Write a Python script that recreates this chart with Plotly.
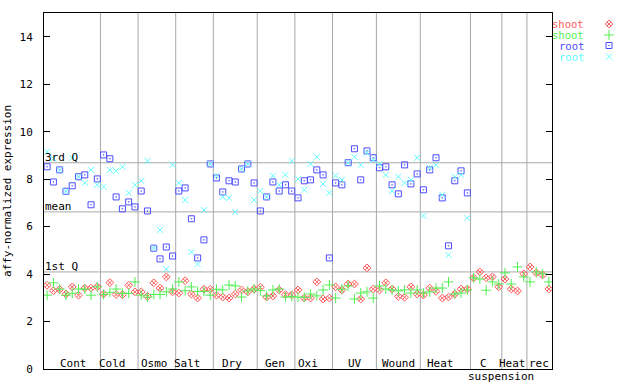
import plotly.graph_objects as go

# ---- data ----
group_names = ["Cont", "Cold", "Osmo", "Salt", "Dry", "Gen", "Oxi", "UV", "Wound", "Heat", "C", "Heat", "rec"]
group_sizes = [9, 6, 6, 6, 7, 6, 6, 7, 7, 8, 5, 4, 4]
label_x = [5.28, 11.5, 18.04, 23.39, 30.48, 37.34, 42.53, 50.1, 56.96, 63.66, 70.52, 75.2, 79.45]
sub_label = "suspension"
sub_label_x = 73.4

shoot_a = [3.53, 3.30, 3.35, 3.16, 3.46, 3.11, 3.41, 3.41, 3.46,
           3.16, 3.64, 3.14, 3.13, 3.53, 3.25,
           3.25, 3.06, 3.63, 3.41, 3.88, 3.25,
           3.20, 3.72, 3.16, 2.99, 3.36, 3.36,
           3.11, 3.03, 2.99, 3.16, 3.33, 3.25, 3.37,
           3.44, 3.03, 3.08, 3.33, 3.13, 3.12,
           3.33, 2.99, 2.99, 3.67, 2.95, 2.99,
           3.46, 3.33, 3.58, 3.58, 2.95, 4.26, 3.37,
           3.33, 3.63, 3.37, 3.06, 3.02, 3.46, 3.16,
           3.12, 3.41, 3.27, 2.99, 3.03, 3.16, 3.37, 3.37,
           3.84, 4.09, 3.84, 3.88, 3.46,
           3.79, 3.37, 3.29, 4.01,
           4.30, 4.05, 3.96, 3.37]
shoot_b = [3.11, 3.63, 3.37, 3.11, 3.19, 3.37, 3.37, 3.11, 3.46,
           3.14, 3.23, 3.37, 3.19, 3.19, 3.67,
           3.11, 3.03, 3.14, 3.14, 3.25, 3.37,
           3.67, 3.30, 3.46, 3.27, 3.27, 3.11,
           3.36, 3.33, 3.54, 3.50, 3.03, 3.29, 3.37,
           3.30, 3.08, 3.33, 3.37, 3.03, 3.06,
           3.03, 3.02, 3.16, 3.08, 3.33, 3.54,
           2.99, 3.36, 3.50, 2.95, 3.20, 3.25, 2.99,
           3.50, 3.37, 3.33, 3.29, 3.33, 3.20, 3.33,
           3.20, 3.25, 3.41, 3.41, 3.67, 3.16, 3.20, 3.33,
           3.84, 3.79, 3.32, 3.67, 3.58,
           4.05, 3.58, 4.30, 3.88,
           3.67, 4.09, 4.01, 3.67]
root_a = [8.52, 7.88, 8.39, 7.49, 7.72, 8.10, 8.18, 6.92, 8.01,
          9.02, 8.86, 7.25, 6.75, 7.04, 6.83,
          7.50, 6.66, 5.09, 4.64, 5.14, 4.76,
          7.50, 7.63, 6.33, 4.68, 5.44, 8.64,
          8.05, 7.46, 7.93, 7.88, 8.43, 8.64, 7.84,
          6.66, 7.25, 7.88, 7.50, 7.76, 7.50,
          7.21, 7.93, 7.97, 8.39, 8.18, 4.68,
          7.84, 7.76, 8.69, 9.28, 7.97, 9.19, 8.90,
          8.48, 8.52, 7.76, 7.38, 8.60, 7.80, 8.22,
          7.55, 8.39, 8.90, 7.21, 5.19, 7.93, 8.35, 7.42] + [None] * 13
root_b = [9.15, 8.87, 8.39, 7.49, 8.90, 8.10, 7.84, 8.39, 7.76,
          7.68, 8.39, 8.35, 8.52, 7.42, 7.76,
          7.93, 8.77, 5.09, 5.86, 4.21, 8.60,
          7.84, 7.12, 4.93, 4.42, 6.70, 8.64,
          8.14, 7.25, 7.21, 6.62, 8.43, 8.64, 7.12,
          7.50, 7.25, 8.14, 7.76, 8.18, 8.77,
          8.01, 7.55, 8.64, 8.94, 7.80, 7.42,
          8.14, 7.97, 8.69, 8.94, 8.60, 9.11, 8.81,
          8.64, 8.18, 7.50, 8.10, 7.84, 7.97, 8.90,
          6.45, 8.48, 8.60, 7.34, 4.81, 8.10, 8.18, 6.36] + [None] * 13

q3_value = 8.69
mean_value = 6.62
q1_value = 4.09
y_ticks = [0, 2, 4, 6, 8, 10, 12, 14]

# ---- layout constants (pixels) ----
W, H = 640, 384
L, R, T, B = 44, 20, 13, 15
PLOT_RIGHT = 552
area_w = W - L - R
main_frac = (PLOT_RIGHT - L) / area_w

n = len(shoot_a)
xs = list(range(1, n + 1))
FONT = "DejaVu Sans Mono"
C_RED, C_GREEN, C_BLUE, C_CYAN = "#ff5a5a", "#50f050", "#4c4cff", "#60ffff"
GRID = "#a8a8a8"

fig = go.Figure()

series = [
    ("shoot", shoot_a, C_RED, "diamond-x-open", 6),
    ("shoot", shoot_b, C_GREEN, "cross-thin-open", 7),
    ("root", root_a, C_BLUE, "square-open-dot", 6),
    ("root", root_b, C_CYAN, "x-thin-open", 6),
]
for name, vals, col, sym, sz in series:
    fig.add_trace(go.Scatter(x=xs, y=vals, mode="markers", name=name, showlegend=False,
                             marker=dict(symbol=sym, size=sz, color=col,
                                         line=dict(color=col, width=1))))

# separators and reference lines
shapes = []
b = 0.5
for s in group_sizes[:-1]:
    b += s
    shapes.append(dict(type="line", xref="x", yref="y", x0=b, x1=b, y0=0, y1=15,
                       line=dict(color=GRID, width=1), layer="below"))
for v in (q3_value, mean_value, q1_value):
    shapes.append(dict(type="line", xref="x", yref="y", x0=0.5, x1=n + 0.5, y0=v, y1=v,
                       line=dict(color=GRID, width=1), layer="below"))

ann = []
for name, lx in zip(group_names, label_x):
    ann.append(dict(x=lx, y=0, xref="x", yref="y", text=name, showarrow=False,
                    xanchor="center", yanchor="middle", yshift=6,
                    font=dict(family=FONT, size=11, color="black")))
ann.append(dict(x=sub_label_x, y=0, xref="x", yref="y", text=sub_label, showarrow=False,
                xanchor="center", yanchor="middle", yshift=-7,
                font=dict(family=FONT, size=11, color="black")))
for txt, v in (("3rd Q", q3_value), ("mean", mean_value), ("1st Q", q1_value)):
    ann.append(dict(x=0.5, y=v, xref="x", yref="y", text=txt, showarrow=False,
                    xanchor="left", yanchor="bottom", xshift=-1, yshift=-3,
                    font=dict(family=FONT, size=11, color="black")))

# legend (text then symbol, right of the plot), in a pixel-unit side panel
leg_rows = [24, 35, 45.5, 56.5]
for (name, vals, col, sym, sz), ly in zip(series, leg_rows):
    ann.append(dict(x=586, y=ly, xref="x2", yref="y2", text=name, showarrow=False,
                    xanchor="right", yanchor="middle",
                    font=dict(family=FONT, size=10.5, color=col)))
    fig.add_trace(go.Scatter(x=[609], y=[ly], xaxis="x2", yaxis="y2", mode="markers",
                             showlegend=False, cliponaxis=False, hoverinfo="skip",
                             marker=dict(symbol=sym, size=sz, color=col,
                                         line=dict(color=col, width=1))))

fig.update_layout(
    width=W, height=H,
    margin=dict(l=L, r=R, t=T, b=B, autoexpand=False),
    paper_bgcolor="white", plot_bgcolor="white",
    font=dict(family=FONT, size=11, color="black"),
    showlegend=False,
    shapes=shapes, annotations=ann,
    xaxis=dict(domain=[0, main_frac], range=[0.5, n + 0.5], showgrid=False, zeroline=False,
               showticklabels=False, ticks="", showline=True, linecolor="black",
               linewidth=1, mirror=True, automargin=False),
    yaxis=dict(range=[0, 15], tickvals=y_ticks, showgrid=False, zeroline=False,
               ticks="inside", ticklen=6, tickcolor="black", showline=True,
               linecolor="black", linewidth=1, mirror="ticks", ticklabelstandoff=8,
               automargin=False,
               title=dict(text="affy-normalized expression", standoff=5,
                          font=dict(family=FONT, size=11)),
               tickfont=dict(family=FONT, size=11)),
    xaxis2=dict(domain=[main_frac, 1], range=[PLOT_RIGHT, W - R], visible=False, anchor="y2",
                automargin=False),
    yaxis2=dict(domain=[0, 1], range=[H - B, T], visible=False, anchor="x2", automargin=False),
)

fig.write_html("out.html", config={"displayModeBar": False},
               post_script="document.body.style.margin='0';document.body.style.overflow='hidden';")
